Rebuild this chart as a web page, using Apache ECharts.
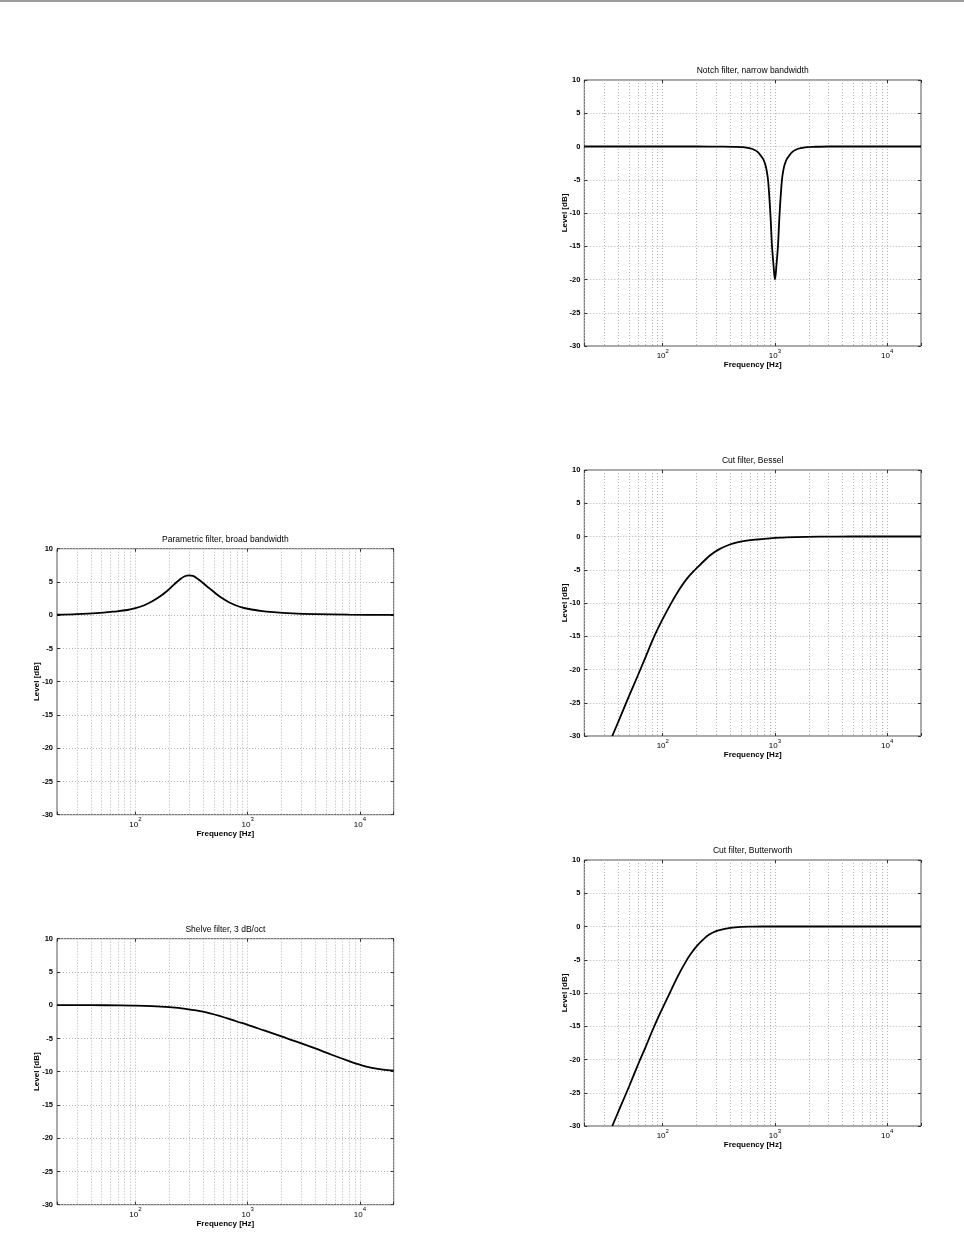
<!DOCTYPE html>
<html>
<head>
<meta charset="utf-8">
<script src="https://cdn.jsdelivr.net/npm/echarts@6/dist/echarts.min.js"></script>
<style>
html,body{margin:0;padding:0;background:#fff;}
#topline{position:absolute;left:0;top:0;width:964px;height:2px;background:#9c9c9c;z-index:2;}
#chart{position:absolute;left:0;top:0;width:964px;height:1240px;}
</style>
</head>
<body>
<div id="chart"></div>
<div id="topline"></div>
<script>
// ---- Data (frequency in Hz, level in dB) ----
const notchHz = [20, 200, 333, 455, 520, 590, 645, 700, 741, 785, 820, 845, 867, 890, 909, 925, 941, 970, 1000,
                 1031, 1063, 1081, 1100, 1124, 1154, 1183, 1220, 1274, 1350, 1429, 1550, 1695, 1923, 2198, 3000, 20000];
const notchDb = [0, 0, -0.02, -0.05, -0.1, -0.25, -0.45, -0.8, -1.3, -1.9, -2.7, -3.7, -5, -7.5, -10, -12.5, -15, -17.8, -20,
                 -17.8, -15, -12.5, -10, -7.5, -5, -3.7, -2.7, -1.9, -1.3, -0.8, -0.45, -0.25, -0.1, -0.05, 0, 0];

const paramHz = [20, 30, 45, 65, 85, 100, 120, 140, 165, 190, 220, 250, 275, 300, 325, 350, 390, 430, 480, 540, 600, 680, 780, 900, 1000, 1300, 1700, 2500, 4000, 8000, 20000];
const paramDb = [0.07, 0.15, 0.3, 0.55, 0.78, 1.05, 1.5, 2.05, 2.8, 3.6, 4.6, 5.4, 5.85, 6.0, 5.9, 5.6, 5.0, 4.4, 3.75, 3.05, 2.5, 1.95, 1.5, 1.15, 0.97, 0.65, 0.45, 0.28, 0.17, 0.08, 0.04];

const besselHz = [35.5, 42, 50, 60, 70, 83.6, 100, 120, 140, 165, 194, 220, 263, 320, 396, 470, 558, 700, 841, 1107, 1500, 2500, 5000, 20000];
const besselDb = [-30, -27.1, -24.0, -20.9, -18.2, -15.1, -12.4, -9.9, -8.0, -6.3, -5.0, -4.1, -2.85, -1.9, -1.2, -0.85, -0.63, -0.45, -0.33, -0.18, -0.1, -0.03, 0, 0];

const butterHz = [35.5, 42, 50, 61.8, 70, 79.7, 95, 114, 135, 163, 180, 200, 225, 250, 280, 320, 400, 500, 630, 800, 20000];
const butterDb = [-30, -27.1, -24.1, -20.3, -18.2, -15.9, -13.0, -10.2, -7.6, -5.1, -4.0, -3.0, -2.1, -1.4, -0.9, -0.55, -0.22, -0.07, -0.02, 0, 0];

const shelveHz = [20, 40, 70, 100, 140, 200, 280, 400, 560, 800, 1000, 1400, 2000, 2800, 4000, 5600, 8000, 10000, 12500, 16000, 20000];
const shelveDb = [0, 0, -0.02, -0.05, -0.13, -0.3, -0.55, -0.95, -1.6, -2.45, -2.95, -3.8, -4.7, -5.55, -6.5, -7.45, -8.4, -8.95, -9.4, -9.7, -9.85];

const titles = ['Notch filter, narrow bandwidth', 'Parametric filter, broad bandwidth', 'Cut filter, Bessel', 'Shelve filter, 3 dB/oct', 'Cut filter, Butterworth'];
const yTicks = [-30, -25, -20, -15, -10, -5, 0, 5, 10];
const freqRange = [20, 20000];
const yLabel = 'Level [dB]';
const xLabel = 'Frequency [Hz]';

// ---- Layout ----
const W = 336.7, H = 266;
const panels = [
  { title: titles[0], hz: notchHz,  db: notchDb,  left: 584.3, top: 80 },
  { title: titles[1], hz: paramHz,  db: paramDb,  left: 57,    top: 548.7 },
  { title: titles[2], hz: besselHz, db: besselDb, left: 584.3, top: 470 },
  { title: titles[3], hz: shelveHz, db: shelveDb, left: 57,    top: 938.7 },
  { title: titles[4], hz: butterHz, db: butterDb, left: 584.3, top: 860 }
];

const FONT = '"Liberation Sans", Arial, Helvetica, sans-serif';
const gridLine = { color: '#b4b4b4', width: 1, type: [1, 2] };
const tickStyle = { color: '#333', width: 1 };

function isDecade(v) {
  const e = Math.log10(v);
  return Math.abs(e - Math.round(e)) < 1e-6;
}

const option = {
  animation: false,
  backgroundColor: '#fff',
  title: [], grid: [], xAxis: [], yAxis: [], series: []
};

panels.forEach((p, i) => {
  option.title.push({
    text: p.title,
    left: p.left + W / 2,
    top: p.top - 14,
    textAlign: 'center',
    padding: 0,
    textStyle: { fontFamily: FONT, fontSize: 8.5, fontWeight: 'normal', color: '#000' }
  });
  option.grid.push({
    left: p.left, top: p.top, width: W, height: H,
    show: true, borderColor: '#555', borderWidth: 1, backgroundColor: 'transparent',
    containLabel: false
  });
  option.xAxis.push({
    type: 'log', logBase: 10, gridIndex: i, min: freqRange[0], max: freqRange[1],
    position: 'bottom',
    axisLine: { show: false, onZero: false },
    axisTick: { show: true, inside: true, length: 3, lineStyle: tickStyle },
    minorTick: { show: false, splitNumber: 9 },
    splitLine: { show: true, lineStyle: gridLine },
    minorSplitLine: { show: true, lineStyle: gridLine },
    axisLabel: {
      margin: 2,
      formatter: function (v) {
        if (!isDecade(v) || v <= freqRange[0] || v >= freqRange[1]) return '';
        return '{b|10}{s|' + Math.round(Math.log10(v)) + '}';
      },
      rich: {
        b: { fontFamily: FONT, fontSize: 8, color: '#000', verticalAlign: 'bottom', lineHeight: 12 },
        s: { fontFamily: FONT, fontSize: 6, color: '#000', verticalAlign: 'top', lineHeight: 12 }
      }
    },
    name: xLabel, nameLocation: 'middle', nameGap: 15,
    nameTextStyle: { fontFamily: FONT, fontSize: 8, fontWeight: 'bold', color: '#000' }
  });
  option.xAxis.push({
    type: 'log', logBase: 10, gridIndex: i, min: freqRange[0], max: freqRange[1],
    position: 'top',
    axisLine: { show: false, onZero: false },
    axisTick: { show: true, inside: true, length: 3, lineStyle: tickStyle },
    axisLabel: { show: false },
    splitLine: { show: false }
  });
  option.yAxis.push({
    type: 'value', gridIndex: i, min: yTicks[0], max: yTicks[yTicks.length - 1], interval: 5,
    position: 'left',
    axisLine: { show: false, onZero: false },
    axisTick: { show: true, inside: true, length: 3, lineStyle: tickStyle },
    splitLine: { show: true, lineStyle: gridLine },
    axisLabel: { margin: 4, fontFamily: FONT, fontSize: 7.5, fontWeight: 'bold', color: '#000' },
    name: yLabel, nameLocation: 'middle', nameGap: 16, nameMoveOverlap: false,
    nameTextStyle: { fontFamily: FONT, fontSize: 8, fontWeight: 'bold', color: '#000' }
  });
  option.yAxis.push({
    type: 'value', gridIndex: i, min: yTicks[0], max: yTicks[yTicks.length - 1], interval: 5,
    position: 'right',
    axisLine: { show: false, onZero: false },
    axisTick: { show: true, inside: true, length: 3, lineStyle: tickStyle },
    splitLine: { show: false },
    axisLabel: { show: false }
  });
  option.series.push({
    type: 'line',
    xAxisIndex: 2 * i, yAxisIndex: 2 * i,
    data: p.hz.map((f, k) => [f, p.db[k]]),
    showSymbol: false, symbol: 'none',
    smooth: 0.35,
    clip: true,
    lineStyle: { color: '#000', width: 1.8 }
  });
});

const chart = echarts.init(document.getElementById('chart'), null, { renderer: 'canvas' });
chart.setOption(option);
</script>
</body>
</html>
